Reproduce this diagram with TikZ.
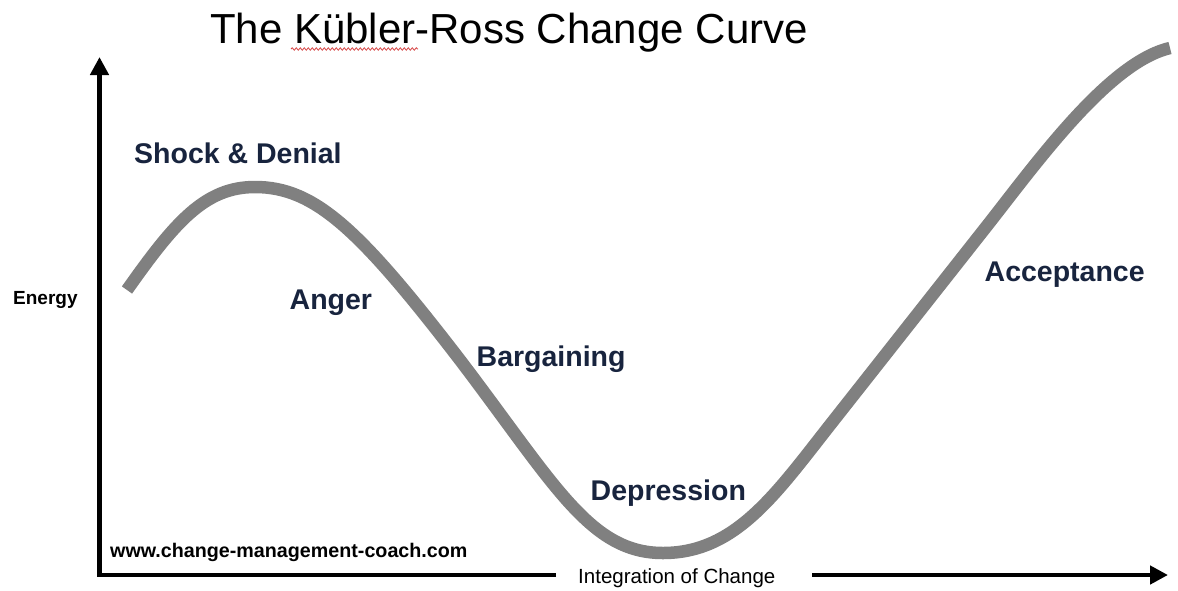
\documentclass[tikz,border=0pt]{standalone}
\usepackage{fontspec}
\setmainfont{Liberation Sans}
\usetikzlibrary{arrows.meta,decorations.pathmorphing}
\definecolor{labelnavy}{RGB}{24,36,62}
\definecolor{curvegray}{RGB}{128,128,128}
\definecolor{spellred}{RGB}{215,70,70}
\begin{document}
\begin{tikzpicture}[x=1pt,y=-1pt,
  stage/.style={font=\fontsize{28.5}{30}\selectfont\bfseries, text=labelnavy, anchor=base west, inner sep=0pt},
  axislabel/.style={font=\fontsize{20.5}{22}\selectfont, text=black, anchor=base west, inner sep=0pt},
  axisline/.style={line width=4.5pt, black, line join=miter},
  tip/.style={-{Triangle[length=18pt,width=18pt]}},
  stagecurve/.style={curvegray, line width=12.5pt, line cap=butt}]
\useasboundingbox[fill=white] (0,0) rectangle (1178,590);

% title
\node[anchor=base west, inner sep=0pt, font=\fontsize{42}{44}\selectfont] (title) at (210,43) {The Kübler-Ross Change Curve};
\draw[spellred, line width=0.8pt, decorate, decoration={snake, amplitude=1.2pt, segment length=4pt}] (291,49) -- (418,49);

% axes
\coordinate (ytip) at (99.5,57);
\coordinate (origin) at (99.5,575);
\coordinate (xgapL) at (556,575);
\coordinate (xgapR) at (812,575);
\coordinate (xtip) at (1168,575);
\draw[axisline, tip] (xgapL) -- (origin) -- (ytip);
\draw[axisline, tip] (xgapR) -- (xtip);

% curve
\draw[stagecurve] (127,290) .. controls (175,222) and (205,187) .. (255,187)
  .. controls (315,187) and (360,230) .. (460,360)
  .. controls (555,485) and (590,553) .. (663,553)
  .. controls (735,553) and (775,495) .. (830,425)
  -- (990,222)
  .. controls (1040,158) and (1110,62) .. (1170,48);

% stage labels
\node[stage] (shock) at (134,163) {Shock \& Denial};
\node[stage] (anger) at (289.5,309.5) {Anger};
\node[stage] (barg) at (476.5,366) {Bargaining};
\node[stage] (depr) at (590.5,500.5) {Depression};
\node[stage] (acc) at (984.5,281.5) {Acceptance};

% axis labels
\node[anchor=base west, inner sep=0pt, font=\fontsize{19}{20}\selectfont\bfseries] (energy) at (13,304.5) {Energy};
\node[axislabel] (integ) at (578,583) {Integration of Change};
\node[anchor=base west, inner sep=0pt, font=\fontsize{19.7}{21}\selectfont\bfseries] (url) at (110,557) {www.change-management-coach.com};
\end{tikzpicture}
\end{document}
